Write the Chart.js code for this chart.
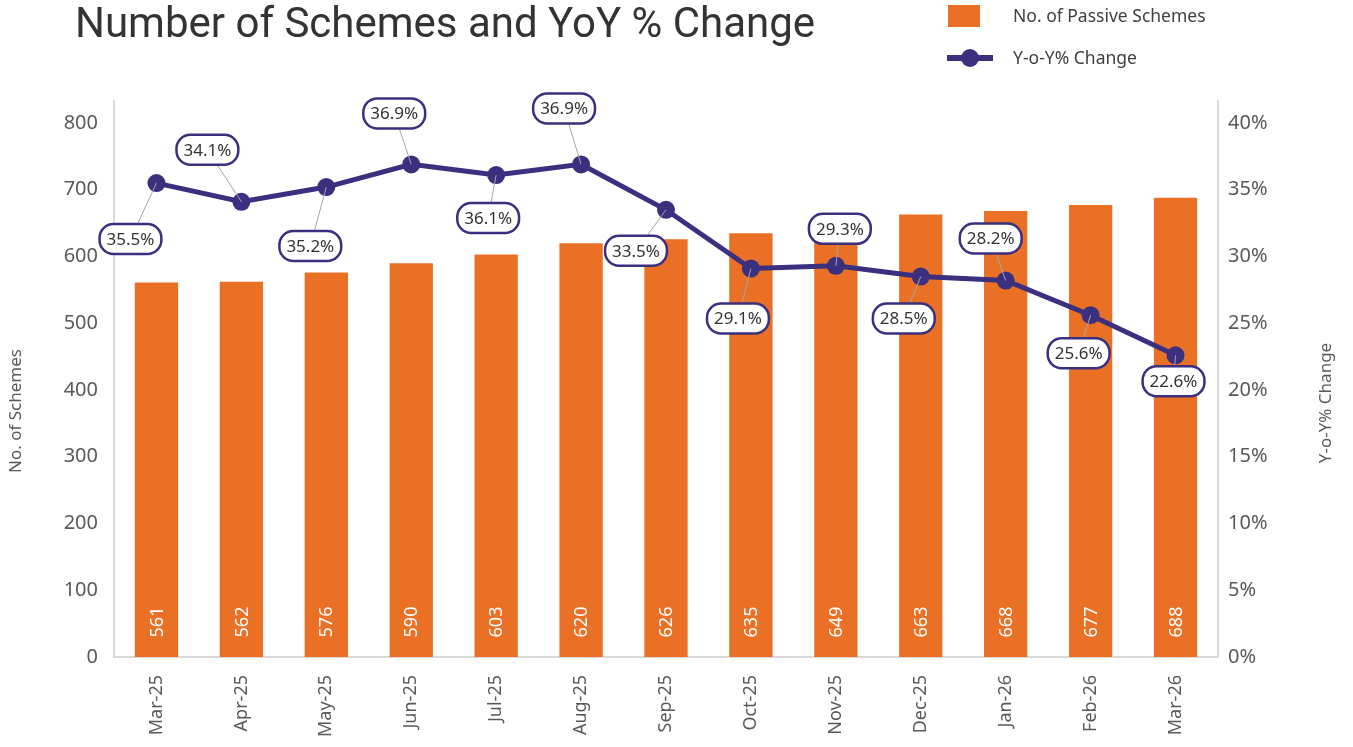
<!DOCTYPE html>
<html>
<head>
<meta charset="utf-8">
<script src="https://cdn.jsdelivr.net/npm/chart.js@4.4.1/dist/chart.umd.min.js"></script>
<style>
  body { margin: 0; background: #fff; font-family: "Noto Sans", sans-serif; }
  #wrap { position: relative; width: 1353px; height: 747px; }
  #title { position: absolute; left: 75px; top: -2px; font-family: Roboto, sans-serif; font-size: 42px; color: #333; white-space: nowrap; }
  .leg { position: absolute; font-size: 17.5px; color: #404040; white-space: nowrap; }
  #legBox { position: absolute; left: 948px; top: 5px; width: 32px; height: 22px; background: #E97025; }
  #legLine { position: absolute; left: 947px; top: 55px; width: 46px; height: 6px; background: #3B2F7F; }
  #legDot { position: absolute; left: 961px; top: 49px; width: 18px; height: 18px; border-radius: 50%; background: #3B2F7F; }
  canvas { position: absolute; left: 0; top: 0; }
</style>
</head>
<body>
<div id="wrap">
  <canvas id="schemesChart" width="1353" height="747"></canvas>
  <div id="title">Number of Schemes and YoY % Change</div>
  <div id="legBox"></div>
  <div class="leg" style="left:1013px; top:3px;">No. of Passive Schemes</div>
  <div id="legLine"></div>
  <div id="legDot"></div>
  <div class="leg" style="left:1013px; top:45px;">Y-o-Y% Change</div>
</div>
<script>
// data
const months = ['Mar-25', 'Apr-25', 'May-25', 'Jun-25', 'Jul-25', 'Aug-25', 'Sep-25',
                'Oct-25', 'Nov-25', 'Dec-25', 'Jan-26', 'Feb-26', 'Mar-26'];
const schemes = [561, 562, 576, 590, 603, 620, 626, 635, 649, 663, 668, 677, 688];
const yoyChange = [35.5, 34.1, 35.2, 36.9, 36.1, 36.9, 33.5, 29.1, 29.3, 28.5, 28.2, 25.6, 22.6];

// where each % label box sits, relative to its point
const labelDx = [-26, -34, -16, -17, -8, -17, -30, -13, 4, -17, -15, -12, -2];
const labelDy = [56, -52, 59, -51, 43, -56, 41, 50, -37, 42, -42, 38, 26];

const orange = '#E97025';
const purple = '#3B2F7F';
const grey = '#595959';
const fontFam = '"Noto Sans", sans-serif';

function roundRect(ctx, x, y, w, h, r) {
    ctx.beginPath();
    ctx.moveTo(x + r, y);
    ctx.lineTo(x + w - r, y);
    ctx.arc(x + w - r, y + r, r, -Math.PI / 2, 0);
    ctx.lineTo(x + w, y + h - r);
    ctx.arc(x + w - r, y + h - r, r, 0, Math.PI / 2);
    ctx.lineTo(x + r, y + h);
    ctx.arc(x + r, y + h - r, r, Math.PI / 2, Math.PI);
    ctx.lineTo(x, y + r);
    ctx.arc(x + r, y + r, r, Math.PI, Math.PI * 1.5);
    ctx.closePath();
}

function drawRotated(ctx, txt, x, y, font, color) {
    ctx.save();
    ctx.fillStyle = color;
    ctx.font = font;
    ctx.textAlign = 'center';
    ctx.textBaseline = 'middle';
    ctx.translate(x, y);
    ctx.rotate(-Math.PI / 2);
    ctx.fillText(txt, 0, 0);
    ctx.restore();
}

const extrasPlugin = {
    id: 'extras',
    beforeDatasetsDraw(chart) {
        // the plot frame runs a bit above the top tick
        const ctx = chart.ctx;
        const area = chart.chartArea;
        ctx.save();
        ctx.strokeStyle = '#d9d9d9';
        ctx.lineWidth = 2;
        ctx.beginPath();
        ctx.moveTo(area.left, area.top + 2);
        ctx.lineTo(area.left, area.top - 23);
        ctx.moveTo(area.right, area.top + 2);
        ctx.lineTo(area.right, area.top - 23);
        ctx.stroke();
        ctx.restore();
    },
    afterDatasetDraw(chart, args) {
        // white values inside the bars
        if (args.index !== 1) return;
        const ctx = chart.ctx;
        const area = chart.chartArea;
        chart.getDatasetMeta(1).data.forEach(function (bar, i) {
            drawRotated(ctx, String(schemes[i]), bar.x + 1, area.bottom - 35, '18px ' + fontFam, '#ffffff');
        });
    },
    afterDatasetsDraw(chart) {
        const ctx = chart.ctx;
        const lineMeta = chart.getDatasetMeta(0);
        ctx.save();
        ctx.font = '17px ' + fontFam;
        ctx.textAlign = 'center';
        ctx.textBaseline = 'middle';
        lineMeta.data.forEach(function (pt, i) {
            const cx = pt.x + labelDx[i];
            const cy = pt.y + labelDy[i];
            const txt = yoyChange[i].toFixed(1) + '%';
            const w = ctx.measureText(txt).width + 14;
            const h = 30;
            // leader line
            ctx.strokeStyle = '#a6a6a6';
            ctx.lineWidth = 1;
            ctx.beginPath();
            ctx.moveTo(pt.x, pt.y);
            ctx.lineTo(cx, cy);
            ctx.stroke();
            roundRect(ctx, cx - w / 2, cy - h / 2, w, h, 14);
            ctx.fillStyle = '#ffffff';
            ctx.fill();
            ctx.strokeStyle = purple;
            ctx.lineWidth = 2.5;
            ctx.stroke();
            ctx.fillStyle = '#333333';
            ctx.fillText(txt, cx, cy + 1);
        });
        ctx.restore();

        // axis titles, both reading bottom to top
        drawRotated(ctx, 'No. of Schemes', 16, 411, '17px ' + fontFam, grey);
        drawRotated(ctx, 'Y-o-Y% Change', 1326, 403, '17px ' + fontFam, grey);
    }
};

const config = {
    type: 'bar',
    data: {
        labels: months,
        datasets: [
            {
                type: 'line',
                label: 'Y-o-Y% Change',
                data: yoyChange,
                yAxisID: 'yRight',
                borderColor: purple,
                backgroundColor: purple,
                borderWidth: 5,
                pointRadius: 9,
                pointHoverRadius: 9,
                pointBackgroundColor: purple,
                pointBorderWidth: 0,
                tension: 0,
                order: 1
            },
            {
                type: 'bar',
                label: 'No. of Passive Schemes',
                data: schemes,
                yAxisID: 'yLeft',
                backgroundColor: orange,
                barPercentage: 0.51,
                categoryPercentage: 1.0,
                order: 2
            }
        ]
    },
    options: {
        responsive: false,
        animation: false,
        layout: { padding: { top: 123, left: 0, right: 0, bottom: 0 } },
        plugins: {
            legend: { display: false },
            title: { display: false },
            tooltip: { enabled: false }
        },
        scales: {
            x: {
                grid: { display: false, drawTicks: false },
                border: { display: true, color: '#d9d9d9', width: 2 },
                ticks: {
                    color: grey,
                    font: { size: 18, family: fontFam },
                    maxRotation: 90,
                    minRotation: 90,
                    padding: 18
                },
                afterFit(scale) { scale.height = 90; }
            },
            yLeft: {
                position: 'left',
                min: 0,
                max: 800,
                grid: { display: false, drawTicks: false },
                border: { display: true, color: '#d9d9d9', width: 2 },
                ticks: {
                    stepSize: 100,
                    color: grey,
                    font: { size: 20, family: fontFam },
                    padding: 16
                },
                afterFit(scale) { scale.width = 114; }
            },
            yRight: {
                position: 'right',
                min: 0,
                max: 40,
                grid: { display: false, drawTicks: false },
                border: { display: true, color: '#d9d9d9', width: 2 },
                ticks: {
                    stepSize: 5,
                    color: grey,
                    font: { size: 20, family: fontFam },
                    padding: 10,
                    callback: function (v) { return v + '%'; }
                },
                afterFit(scale) { scale.width = 135; }
            }
        }
    },
    plugins: [extrasPlugin]
};

const myChart = new Chart(document.getElementById('schemesChart'), config);
</script>
</body>
</html>
